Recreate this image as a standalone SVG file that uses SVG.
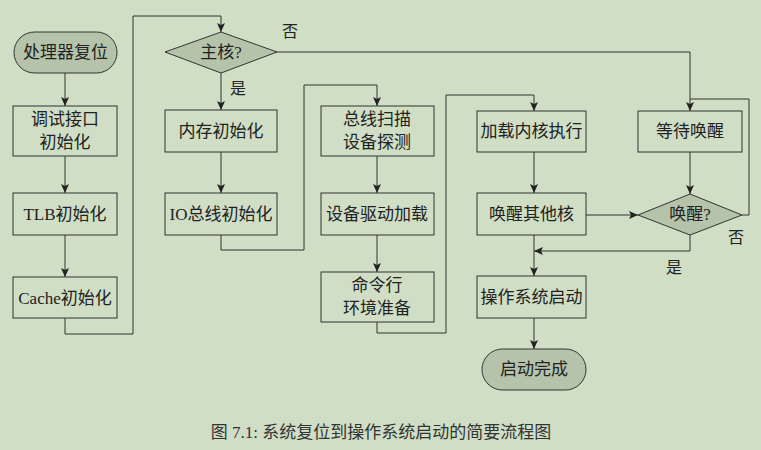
<svg xmlns="http://www.w3.org/2000/svg" width="761" height="450" viewBox="0 0 761 450">
<defs>
<marker id="ah" markerWidth="10" markerHeight="8" refX="9" refY="4" orient="auto" markerUnits="userSpaceOnUse">
<path d="M0,0 L9,4 L0,8 L2,4 Z" fill="#222"/>
</marker>
<style>
.bg{fill:#cfdec5}
.box{fill:#cfdec5;stroke:#333;stroke-width:1}
.term{fill:#b4c3aa;stroke:#333;stroke-width:1}
.t{font-family:"Liberation Serif","Noto Sans CJK SC",serif;font-size:17px;fill:#222;text-anchor:middle;dominant-baseline:central}
.lbl{font-family:"Liberation Serif","Noto Sans CJK SC",serif;font-size:16px;fill:#222;text-anchor:middle;dominant-baseline:central}
.c{fill:none;stroke:#333;stroke-width:1}
.ca{fill:none;stroke:#333;stroke-width:1;marker-end:url(#ah)}
.cap{font-family:"Liberation Serif","Noto Sans CJK SC",serif;font-size:17px;fill:#333;text-anchor:middle}
</style>
</defs>
<rect class="bg" x="0" y="0" width="761" height="450"/>
<g id="connectors">
<path class="ca" d="M65,73 V106"/>
<path class="ca" d="M65,156 V193"/>
<path class="ca" d="M65,235 V277"/>
<path class="ca" d="M65,318 V334 H133 V16 H221 V32"/>
<path class="ca" d="M221,73 V110"/>
<path class="ca" d="M221,152 V193"/>
<path class="ca" d="M221,235 V250 H304 V85 H377 V106"/>
<path class="ca" d="M377,156 V193"/>
<path class="ca" d="M377,235 V272"/>
<path class="ca" d="M377,322 V333 H446 V95 H534 V111"/>
<path class="ca" d="M534,152 V193"/>
<path class="ca" d="M586,215 H638"/>
<path class="ca" d="M277,52 H690 V111"/>
<path class="c" d="M742,215 H749 V99 H690"/>
<path class="ca" d="M690,152 V194"/>
<path class="ca" d="M690,235 V251 H534"/>
<path class="ca" d="M534,235 V276"/>
<path class="ca" d="M534,318 V349"/>
</g>
<g id="n_reset"><rect class="term" x="14" y="32" width="103" height="41" rx="20.5"/><text class="t" x="65.5" y="52.5">处理器复位</text></g>
<g id="n_debug"><rect class="box" x="13" y="106" width="104" height="50"/><text class="t" x="65" y="119">调试接口</text><text class="t" x="65" y="142">初始化</text></g>
<g id="n_tlb"><rect class="box" x="13" y="193" width="104" height="42"/><text class="t" x="65" y="214">TLB初始化</text></g>
<g id="n_cache"><rect class="box" x="13" y="277" width="104" height="41"/><text class="t" x="65" y="298">Cache初始化</text></g>
<g id="n_main"><polygon class="term" points="165,52 221,32 277,52 221,73"/><text class="t" x="221" y="52">主核?</text></g>
<text class="lbl" x="290" y="31">否</text>
<text class="lbl" x="238" y="88">是</text>
<g id="n_mem"><rect class="box" x="165" y="110" width="112" height="42"/><text class="t" x="221" y="131">内存初始化</text></g>
<g id="n_io"><rect class="box" x="165" y="193" width="112" height="42"/><text class="t" x="221" y="214">IO总线初始化</text></g>
<g id="n_bus"><rect class="box" x="321" y="106" width="113" height="50"/><text class="t" x="377" y="119">总线扫描</text><text class="t" x="377" y="142">设备探测</text></g>
<g id="n_drv"><rect class="box" x="321" y="193" width="113" height="42"/><text class="t" x="377" y="214">设备驱动加载</text></g>
<g id="n_cmd"><rect class="box" x="321" y="272" width="113" height="50"/><text class="t" x="377" y="285">命令行</text><text class="t" x="377" y="308">环境准备</text></g>
<g id="n_kernel"><rect class="box" x="477" y="111" width="109" height="41"/><text class="t" x="531.5" y="131.5">加载内核执行</text></g>
<g id="n_wakeother"><rect class="box" x="477" y="193" width="109" height="42"/><text class="t" x="531.5" y="214">唤醒其他核</text></g>
<g id="n_os"><rect class="box" x="477" y="276" width="109" height="42"/><text class="t" x="531.5" y="297">操作系统启动</text></g>
<g id="n_done"><rect class="term" x="482" y="349" width="104" height="41" rx="20.5"/><text class="t" x="534" y="369.5">启动完成</text></g>
<g id="n_wait"><rect class="box" x="638" y="111" width="104" height="41"/><text class="t" x="690" y="131.5">等待唤醒</text></g>
<g id="n_woken"><polygon class="term" points="638,215 690,194 742,215 690,235"/><text class="t" x="690" y="214.5">唤醒?</text></g>
<text class="lbl" x="736" y="237">否</text>
<text class="lbl" x="674" y="267">是</text>
<text class="cap" x="381" y="438">图 7.1: 系统复位到操作系统启动的简要流程图</text>
</svg>
